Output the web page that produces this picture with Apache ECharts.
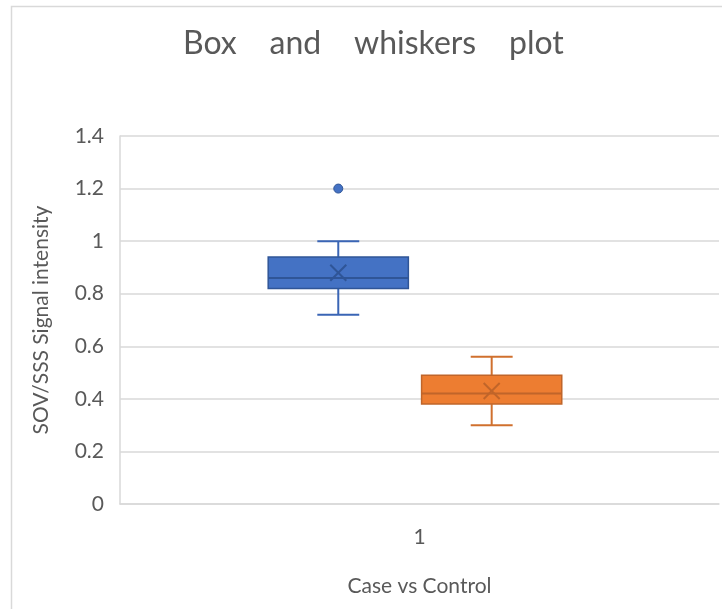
<!DOCTYPE html>
<html>
<head>
<meta charset="utf-8">
<script src="https://cdn.jsdelivr.net/npm/echarts@6/dist/echarts.min.js"></script>
<style>
    html, body { margin: 0; padding: 0; background: #fff; }
    #main { width: 722px; height: 609px; }
</style>
</head>
<body>
<div id="main"></div>
<script>
// data
const categories = ['1'];
const caseBox = [0.72, 0.82, 0.86, 0.94, 1.0];      // min, q1, median, q3, max
const caseMean = 0.88;
const caseOutliers = [1.2];
const controlBox = [0.30, 0.38, 0.42, 0.49, 0.56];
const controlMean = 0.43;
const controlOutliers = [];

const FONT = 'Lato';
const TEXT = '#595959';
const GRID_LINE = '#d9d9d9';

// where each box sits inside the category band (fractions of the band)
const BOX_W = 0.234;
const CAP_W = 0.07;

const makeRenderItem = (outliers, look) => (params, api) => {
    const band = api.size([1, 0])[0];
    const cx = api.coord([api.value(0), 0])[0] + band * look.offset;
    const y = i => api.coord([0, api.value(i)])[1];
    const half = band * BOX_W / 2;
    const cap = band * CAP_W / 2;
    const yMin = y(1), yQ1 = y(2), yMed = y(3), yQ3 = y(4), yMax = y(5), yMean = y(6);
    const line = (x1, y1, x2, y2, stroke) => ({
        type: 'line',
        shape: {x1, y1, x2, y2},
        style: {stroke, lineWidth: 2}
    });
    const children = [
        line(cx, yMin, cx, yQ1, look.whisker),
        line(cx, yQ3, cx, yMax, look.whisker),
        line(cx - cap, yMin, cx + cap, yMin, look.whisker),
        line(cx - cap, yMax, cx + cap, yMax, look.whisker),
        {
            type: 'rect',
            shape: {x: cx - half, y: yQ3, width: half * 2, height: yQ1 - yQ3},
            style: {fill: look.fill, stroke: look.border, lineWidth: 1.5}
        },
        line(cx - half, yMed, cx + half, yMed, look.border),
        line(cx - 8, yMean - 8, cx + 8, yMean + 8, look.border),
        line(cx - 8, yMean + 8, cx + 8, yMean - 8, look.border)
    ];
    outliers.forEach(v => {
        children.push({
            type: 'circle',
            shape: {cx, cy: api.coord([0, v])[1], r: 4.5},
            style: {fill: look.fill, stroke: look.border, lineWidth: 1}
        });
    });
    return {type: 'group', children};
};

const chart = echarts.init(document.getElementById('main'));

chart.setOption({
    animation: false,
    backgroundColor: '#fff',
    title: {
        text: 'Box    and    whiskers    plot',
        left: 178,
        top: 23,
        textStyle: {fontFamily: FONT, fontSize: 32, fontWeight: 'normal', color: TEXT}
    },
    graphic: [{
        type: 'rect',
        shape: {x: 11.5, y: 6.5, width: 800, height: 700},
        style: {fill: null, stroke: GRID_LINE, lineWidth: 1.5},
        silent: true
    }],
    grid: {left: 120, right: 3, top: 136, bottom: 105},
    xAxis: {
        type: 'category',
        data: categories,
        name: 'Case vs Control',
        nameLocation: 'middle',
        nameGap: 72,
        nameTextStyle: {fontFamily: FONT, fontSize: 21, color: TEXT},
        axisLine: {lineStyle: {color: GRID_LINE, width: 1.5}},
        axisTick: {show: false},
        axisLabel: {fontFamily: FONT, fontSize: 21, color: TEXT, margin: 23}
    },
    yAxis: {
        type: 'value',
        min: 0,
        max: 1.4,
        interval: 0.2,
        name: 'SOV/SSS Signal intensity',
        nameLocation: 'middle',
        nameGap: 68,
        nameTextStyle: {fontFamily: FONT, fontSize: 21, color: TEXT},
        axisLine: {show: true, lineStyle: {color: GRID_LINE, width: 1.5}},
        axisTick: {show: false},
        axisLabel: {fontFamily: FONT, fontSize: 21, color: TEXT, margin: 16},
        splitLine: {lineStyle: {color: GRID_LINE, width: 1.5}}
    },
    series: [{
        name: 'Case',
        type: 'custom',
        renderItem: makeRenderItem(caseOutliers, {
            offset: -0.1356, fill: '#4472C4', border: '#2F5597', whisker: '#3A65B5'
        }),
        data: [[0].concat(caseBox, [caseMean])],
        encode: {x: 0, y: [1, 2, 3, 4, 5, 6]}
    }, {
        name: 'Control',
        type: 'custom',
        renderItem: makeRenderItem(controlOutliers, {
            offset: 0.1205, fill: '#ED7D31', border: '#C0652A', whisker: '#D0702E'
        }),
        data: [[0].concat(controlBox, [controlMean])],
        encode: {x: 0, y: [1, 2, 3, 4, 5, 6]}
    }]
});
</script>
</body>
</html>
